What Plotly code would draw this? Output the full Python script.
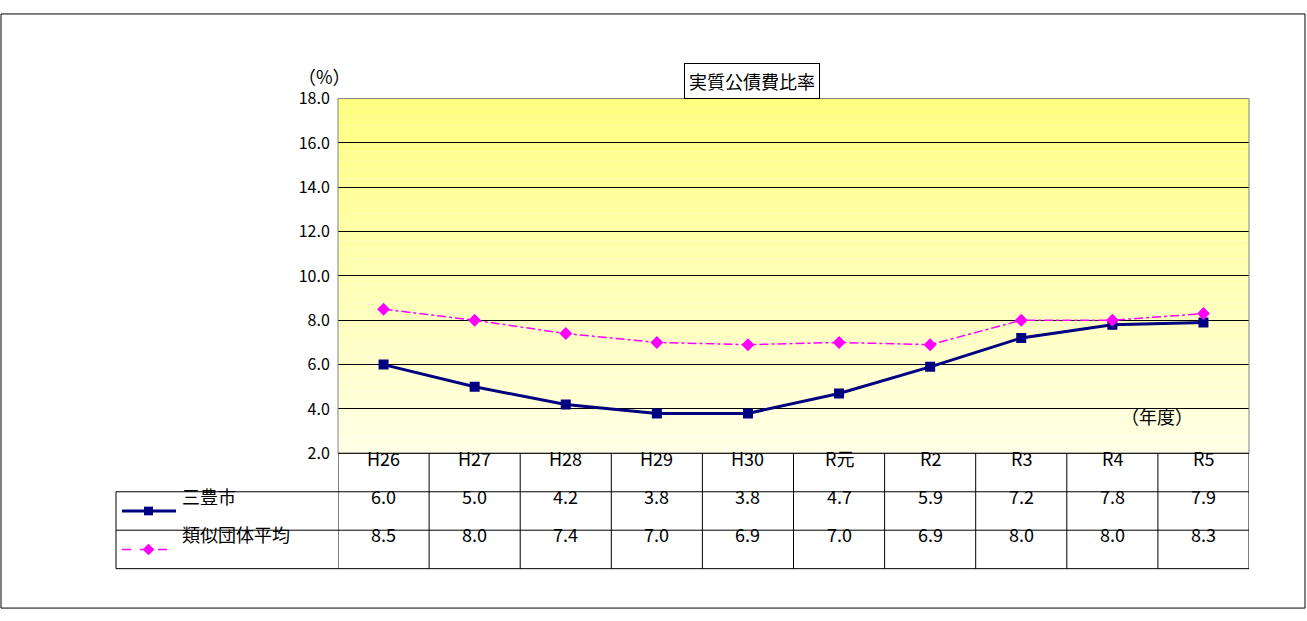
import plotly.graph_objects as go

categories = ["H26", "H27", "H28", "H29", "H30", "R元", "R2", "R3", "R4", "R5"]
mitoyo = [6.0, 5.0, 4.2, 3.8, 3.8, 4.7, 5.9, 7.2, 7.8, 7.9]
ruiji = [8.5, 8.0, 7.4, 7.0, 6.9, 7.0, 6.9, 8.0, 8.0, 8.3]
series_names = ["三豊市", "類似団体平均"]
yticks = [2, 4, 6, 8, 10, 12, 14, 16, 18]

W, H = 1307, 621
FONT = "Noto Sans CJK JP"
px = lambda v: v / W
py = lambda v: 1 - v / H

x0p, x1p, y0p, y1p = 338, 1249, 89, 458
n = len(categories)
xpos = list(range(n))

fig = go.Figure()
fig.add_trace(go.Scatter(x=xpos, y=mitoyo, mode="lines+markers", name=series_names[0],
                         line=dict(color="#000080", width=3),
                         marker=dict(symbol="square", size=10, color="#000080")))
fig.add_trace(go.Scatter(x=xpos, y=ruiji, mode="lines+markers", name=series_names[1],
                         line=dict(color="#FF00FF", width=1.5, dash="dashdot"),
                         marker=dict(symbol="diamond", size=10, color="#FF00FF")))

shapes = []
nb = 40
for i in range(nb):
    t = i / (nb - 1)
    b = int(130 + (230 - 130) * t)
    ya = y0p + (y1p - y0p) * i / nb
    yb = y0p + (y1p - y0p) * (i + 1) / nb
    shapes.append(dict(type="rect", xref="paper", yref="paper", layer="below",
                       x0=px(x0p), x1=px(x1p), y0=py(yb), y1=py(ya),
                       fillcolor=f"rgb(255,255,{b})", line=dict(width=0)))
shapes.append(dict(type="rect", xref="paper", yref="paper", x0=px(x0p), x1=px(x1p),
                   y0=py(y1p), y1=py(y0p), line=dict(color="#808080", width=1)))
shapes.append(dict(type="rect", xref="paper", yref="paper", x0=px(1), x1=px(W - 2),
                   y0=py(H - 2), y1=py(1), line=dict(color="black", width=1)))
for yy in [458, 498, 538, 578]:
    xl = 338 if yy == 458 else 116
    shapes.append(dict(type="line", xref="paper", yref="paper", x0=px(xl), x1=px(x1p),
                       y0=py(yy), y1=py(yy), line=dict(color="black", width=1)))
shapes.append(dict(type="line", xref="paper", yref="paper", x0=px(116), x1=px(116),
                   y0=py(498), y1=py(578), line=dict(color="black", width=1)))
for i in range(n + 1):
    shapes.append(dict(type="line", xref="x", yref="paper", x0=i - 0.5, x1=i - 0.5,
                       y0=py(458), y1=py(578), line=dict(color="black", width=1)))
shapes.append(dict(type="line", xref="paper", yref="paper", x0=px(122), x1=px(176),
                   y0=py(518), y1=py(518), line=dict(color="#000080", width=3)))
shapes.append(dict(type="rect", xref="paper", yref="paper", x0=px(144), x1=px(153),
                   y0=py(522.5), y1=py(513.5), fillcolor="#000080", line=dict(width=0)))
shapes.append(dict(type="line", xref="paper", yref="paper", x0=px(122), x1=px(176),
                   y0=py(558), y1=py(558), line=dict(color="#FF00FF", width=1.5, dash="dash")))
shapes.append(dict(type="path", xref="paper", yref="paper",
                   path=f"M {px(148.5)} {py(552)} L {px(154.5)} {py(558)} L {px(148.5)} {py(564)} L {px(142.5)} {py(558)} Z",
                   fillcolor="#FF00FF", line=dict(width=0)))

ann = []
fs = 18
for i, c in enumerate(categories):
    ann.append(dict(x=i, xref="x", y=py(478), yref="paper", text=c, showarrow=False,
                    font=dict(size=fs, family=FONT, color="black")))
    ann.append(dict(x=i, xref="x", y=py(518), yref="paper", text=f"{mitoyo[i]:.1f}", showarrow=False,
                    font=dict(size=fs, family=FONT, color="black")))
    ann.append(dict(x=i, xref="x", y=py(558), yref="paper", text=f"{ruiji[i]:.1f}", showarrow=False,
                    font=dict(size=fs, family=FONT, color="black")))
ann.append(dict(x=px(180), y=py(518), xref="paper", yref="paper", xanchor="left", text=series_names[0],
                showarrow=False, font=dict(size=fs, family=FONT, color="black")))
ann.append(dict(x=px(180), y=py(558), xref="paper", yref="paper", xanchor="left", text=series_names[1],
                showarrow=False, font=dict(size=fs, family=FONT, color="black")))
ann.append(dict(x=px(752), y=py(52), xref="paper", yref="paper", text="実質公債費比率", showarrow=False,
                font=dict(size=18, family=FONT, color="black"), bordercolor="black", borderwidth=1,
                borderpad=4, bgcolor="white"))
ann.append(dict(x=px(296), y=py(50), xref="paper", yref="paper", text="（%）", showarrow=False,
                font=dict(size=18, family=FONT, color="black")))
ann.append(dict(x=px(1195), y=py(435), xref="paper", yref="paper", text="（年度）", showarrow=False,
                font=dict(size=18, family=FONT, color="black")))

fig.update_layout(
    width=W, height=H, margin=dict(l=0, r=0, t=0, b=0),
    paper_bgcolor="white", plot_bgcolor="rgba(0,0,0,0)", showlegend=False,
    shapes=shapes, annotations=ann,
    xaxis=dict(domain=[px(x0p), px(x1p)], range=[-0.5, n - 0.5], showticklabels=False,
               showgrid=False, zeroline=False, fixedrange=True),
    yaxis=dict(domain=[py(y1p), py(y0p)], range=[2, 18], tickvals=yticks,
               ticktext=[f"{v:.1f}  " for v in yticks], showgrid=True, gridcolor="black",
               gridwidth=1, zeroline=False, ticks="", ticklen=0,
               tickfont=dict(size=16, family=FONT, color="black"), fixedrange=True),
)
fig.write_html("out.html", config={"displayModeBar": False},
               post_script="document.body.style.margin='0';document.body.style.overflow='hidden';")
